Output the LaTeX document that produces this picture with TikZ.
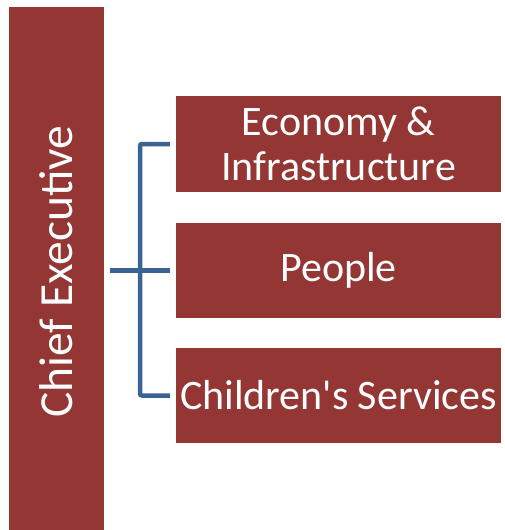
\documentclass[tikz,border=0pt]{standalone}
\usepackage{fontspec}
\newfontfamily\boxfont{Carlito}
\usetikzlibrary{calc}
\definecolor{brick}{RGB}{148,54,52}
\definecolor{linkblue}{RGB}{58,99,148}

\begin{document}
\begin{tikzpicture}[x=1pt,y=-1pt,
        unit/.style={rectangle,fill=brick,text=white,inner sep=0pt,align=center,
            font=\boxfont\fontsize{42}{45}\selectfont},
        dept/.style={unit,minimum width=325pt,minimum height=95pt},
        link/.style={draw=linkblue,line width=4.5pt,rounded corners=2pt,
            shorten <=6pt,shorten >=6pt}]
        \useasboundingbox (0,0) rectangle (504,530);

        % Chief executive column on the left
        \node[unit,rotate=90,minimum width=523pt,minimum height=95pt,
            font=\boxfont\fontsize{47.5}{50}\selectfont] (chief) at (56.5,268.5) {\raisebox{0pt}[0pt][0pt]{\hspace*{-6pt}}Chief Executive};

        % Departments on the right
        \node[dept,minimum height=96pt] (economy) at (338.5,144) {Economy \&\\Infrastructure};
        \node[dept] (people) at (338.5,270.5) {People};
        \node[dept] (children) at (338.5,395.5) {Children's Services};

        % Bracket joining the departments to the chief executive
        \coordinate (bus) at ($(chief.south)!0.5!(people.west)$);
        \draw[link] (chief.south |- people.west) -- (people.west);
        \draw[link] (economy.west) -| (bus) |- (children.west);
    \end{tikzpicture}
\end{document}
